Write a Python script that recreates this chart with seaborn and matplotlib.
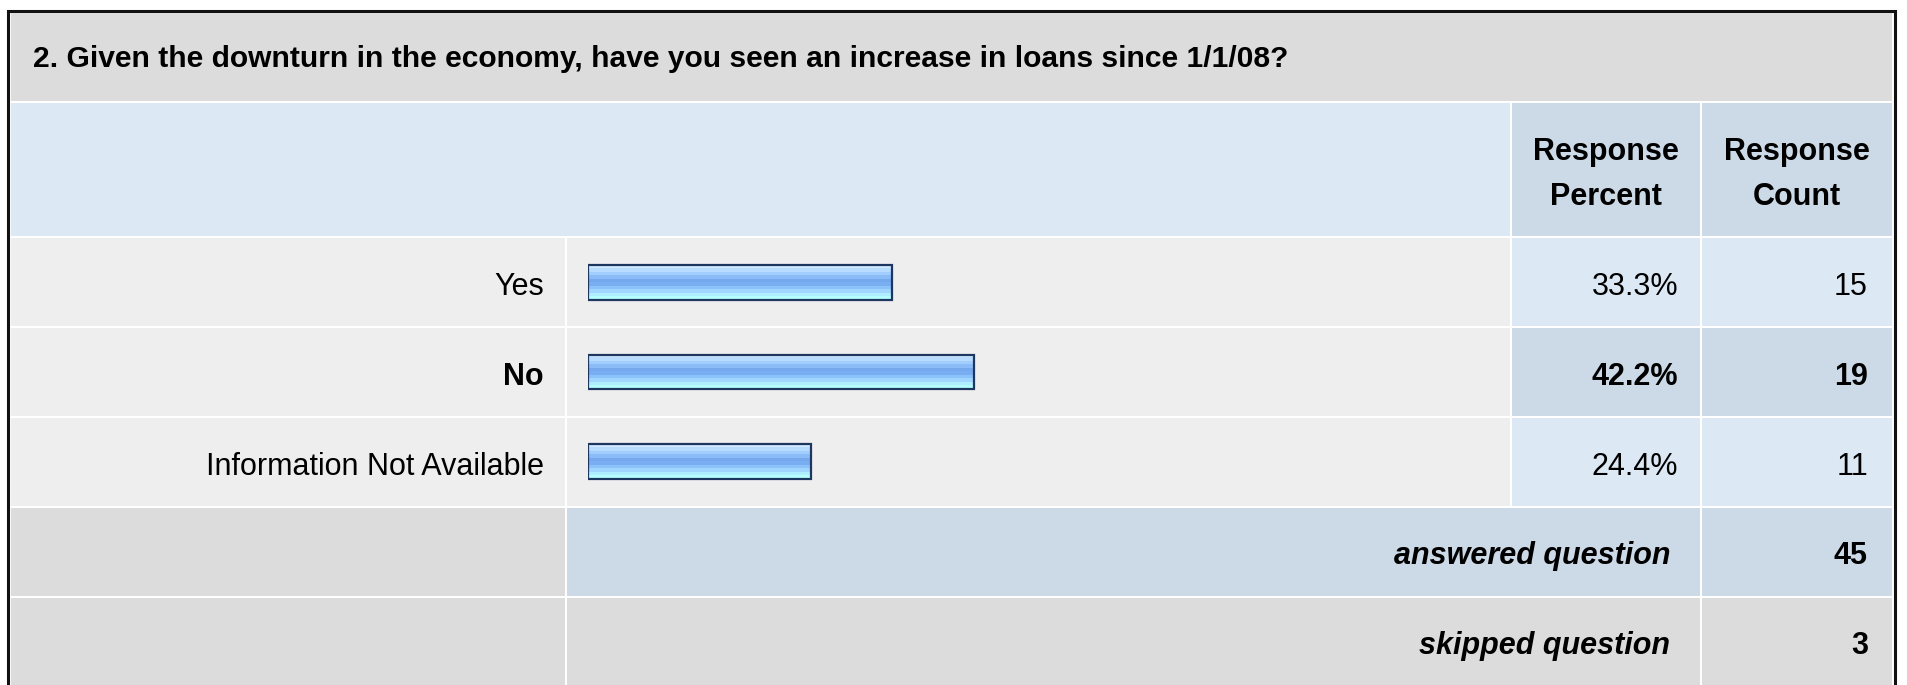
import numpy as np
import pandas as pd
import matplotlib
matplotlib.use("Agg")
import matplotlib.pyplot as plt
from matplotlib.patches import Rectangle
import seaborn as sns

# ── Data ──────────────────────────────────────────────────────
QUESTION = "2. Given the downturn in the economy, have you seen an increase in loans since 1/1/08?"
choices = ["Yes", "No", "Information Not Available"]
percents = [33.3, 42.2, 24.4]
counts = [15, 19, 11]
highlight = "No"
answered = 45
skipped = 3
col_headers = [("Response", "Percent"), ("Response", "Count")]

# ── Style ─────────────────────────────────────────────────────
sns.set_style("white")
plt.rcParams["font.family"] = ["Liberation Sans", "DejaVu Sans"]
plt.rcParams["text.color"] = "black"

GRAY = "#dcdcdc"
LIGHT = "#eeeeee"
BLUE_LIGHT = "#dde8f5"
BLUE_MID = "#ccd9e6"
EDGE = "#1d3760"
GRADIENT = ["#d2eaff", "#b8dcff", "#a2ceff", "#8cbcf8", "#76a8ee", "#7aaef2",
            "#8cc2fa", "#a0d6ff", "#aeeeff", "#b6ffff"]
FS = 22

W, H = 1907, 685
fig = plt.figure(figsize=(W / 100, H / 100), dpi=100)
fig.patch.set_facecolor("white")
ax = fig.add_axes([0, 0, 1, 1])
ax.set_xlim(0, W)
ax.set_ylim(H, 0)
ax.axis("off")

# column / row edges in pixels
cL = (11, 565)
cB = (567, 1510)
cP = (1512, 1700)
cC = (1702, 1892)
r_title = (13, 101)
r_head = (103, 236)
r_rows = [(238, 326), (328, 416), (418, 506)]
r_ans = (508, 596)
r_skip = (598, 690)


def cell(xs, ys, color):
    ax.add_patch(Rectangle((xs[0], ys[0]), xs[1] - xs[0], ys[1] - ys[0],
                           facecolor=color, edgecolor="none", zorder=1))


def txt(x, y, s, ha="right", **kw):
    ax.text(x, y, s, fontsize=FS, ha=ha, va="baseline", color="black", zorder=5, **kw)


# outer frame
ax.add_patch(Rectangle((7.5, 10.5), 1887, 700, facecolor="white",
                       edgecolor="#111111", linewidth=2.2, zorder=0))

# title row
cell((cL[0], cC[1]), r_title, GRAY)
ax.text(33, 67, QUESTION, fontsize=21.6, fontweight="bold",
        va="baseline", ha="left", color="black", zorder=5)

# header row
cell((cL[0], cB[1]), r_head, BLUE_LIGHT)
for xs, (l1, l2) in zip([cP, cC], col_headers):
    cell(xs, r_head, BLUE_MID)
    xc = (xs[0] + xs[1]) / 2
    txt(xc, 160, l1, ha="center", fontweight="bold")
    txt(xc, 205, l2, ha="center", fontweight="bold")

# answer rows
for ys, name, pct, cnt in zip(r_rows, choices, percents, counts):
    bold = name == highlight
    fw = "bold" if bold else "normal"
    cell(cL, ys, LIGHT)
    cell(cB, ys, LIGHT)
    cell(cP, ys, BLUE_MID if bold else BLUE_LIGHT)
    cell(cC, ys, BLUE_MID if bold else BLUE_LIGHT)
    yb = ys[0] + 57
    txt(544, yb, name, fontweight=fw)
    txt(1678, yb, f"{pct:.1f}%", fontweight=fw)
    txt(1868, yb, f"{cnt}", fontweight=fw)

# footer rows
cell(cL, r_ans, GRAY)
cell((cB[0], cP[1]), r_ans, BLUE_MID)
cell(cC, r_ans, BLUE_MID)
cell(cL, r_skip, GRAY)
cell((cB[0], cP[1]), r_skip, GRAY)
cell(cC, r_skip, GRAY)
for ys, label, val in [(r_ans, "answered question", answered), (r_skip, "skipped question", skipped)]:
    yb = ys[0] + 56
    txt(1670, yb, label, fontweight="bold", fontstyle="italic")
    txt(1868, yb, f"{val}", fontweight="bold")

# ── Bars ──────────────────────────────────────────────────────
bx0, bw = 588, 914
bar_ax = fig.add_axes([bx0 / W, 1 - r_rows[-1][1] / H, bw / W, (r_rows[-1][1] - r_rows[0][0]) / H])
bar_ax.patch.set_alpha(0)
df = pd.DataFrame({"choice": choices, "percent": percents})
sns.barplot(data=df, x="percent", y="choice", orient="h", ax=bar_ax, width=0.39,
            color=GRADIENT[4], edgecolor=EDGE, linewidth=1.6)

# glossy stripe fill, clipped to each bar
grad = np.array([matplotlib.colors.to_rgb(c) for c in GRADIENT])[:, None, :]
for p in bar_ax.patches:
    x, y, w, h = p.get_x(), p.get_y(), p.get_width(), p.get_height()
    im = bar_ax.imshow(grad, extent=[x, x + w, y + h, y], aspect="auto",
                       interpolation="nearest", zorder=2)
    im.set_clip_path(p)
    p.set_facecolor("none")
    p.set_zorder(3)
bar_ax.set_xlim(0, 100)
bar_ax.set_ylim(len(choices) - 0.5, -0.5)
bar_ax.axis("off")

fig.savefig("out.png", dpi=100)
